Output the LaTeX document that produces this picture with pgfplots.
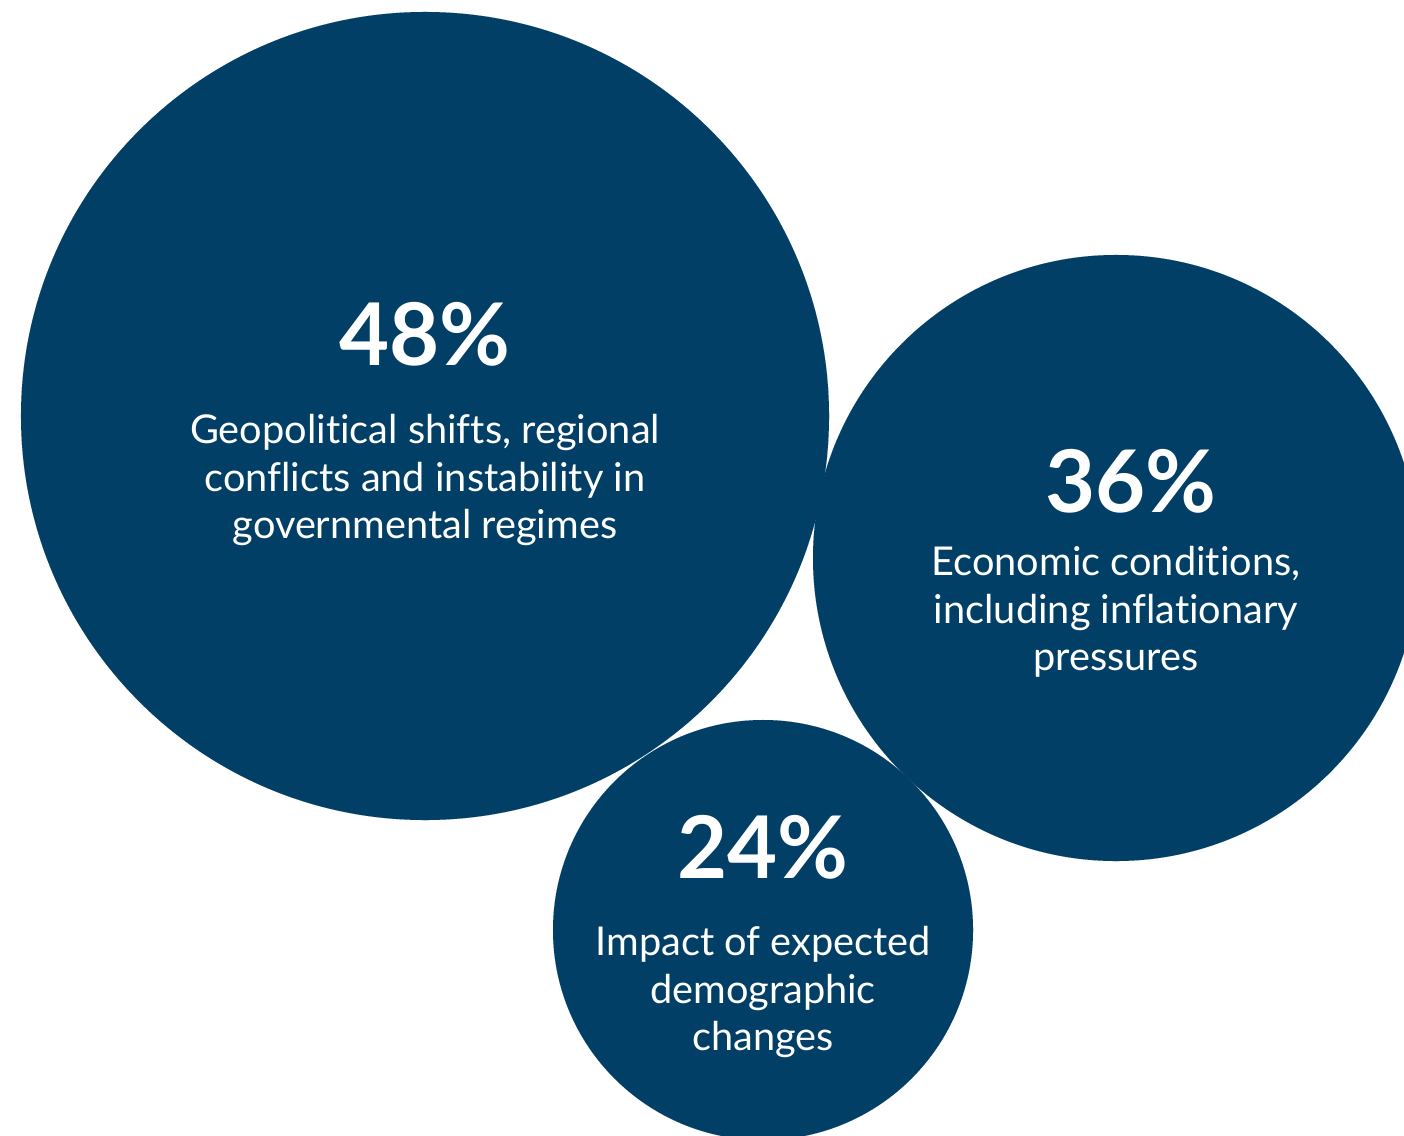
\documentclass[border=0pt]{standalone}
\usepackage{fontspec}
\setmainfont{Lato}[Ligatures={NoCommon}]
\usepackage{pgfplots}
\usepackage{pgfplotstable}
\pgfplotsset{compat=1.18}
\definecolor{navy}{RGB}{2,63,102}
% x, y: centre (px, y downwards); r: radius (px); v: share (%); px, py: label anchor
\pgfplotstableread{
x    y    r    v   px    py
425  416  404  48  425   365
1116 558  303  36  1131  512
763  930  210  24  763   878
}\bubbles
\begin{document}
\begin{tikzpicture}
\begin{axis}[
  width=14.04cm, height=11.35cm, scale only axis,
  xmin=0, xmax=1404, ymin=0, ymax=1135, y dir=reverse,
  hide axis, clip marker paths=true,
]
\addplot[scatter, only marks, mark=*, point meta=explicit,
  visualization depends on={\thisrow{r}*0.284528 \as \rad},
  scatter/use mapped color={draw=navy, fill=navy},
  mark options={line width=0.01pt},
  scatter/@pre marker code/.append style={/tikz/mark size=\rad}]
  table[x=x, y=y, meta=v]{\bubbles};
\addplot[draw=none, mark=none, point meta=explicit,
  nodes near coords={\pgfmathprintnumber[assume math mode=true]{\pgfplotspointmeta}\%},
  nodes near coords align={anchor=base},
  every node near coord/.append style={anchor=base, inner sep=0pt, text=white,
    font=\fontsize{24.6}{30}\selectfont\bfseries}]
  table[x=px, y=py, meta=v]{\bubbles};
\begin{scope}[every node/.style={anchor=north, align=center, inner sep=0pt, text=white,
    font=\fontsize{11.3}{13.5}\selectfont}]
\node at (axis cs:425,414) {Geopolitical shifts, regional\\conflicts and instability in\\governmental regimes};
\node at (axis cs:1116,546) {Economic conditions,\\including inflationary\\pressures};
\node at (axis cs:763,926) {Impact of expected\\demographic\\changes};
\end{scope}
\coordinate (ll) at (rel axis cs:0,0);
\coordinate (ur) at (rel axis cs:1,1);
\end{axis}
\pgfresetboundingbox
\useasboundingbox (ll) rectangle (ur);
\end{tikzpicture}
\end{document}
